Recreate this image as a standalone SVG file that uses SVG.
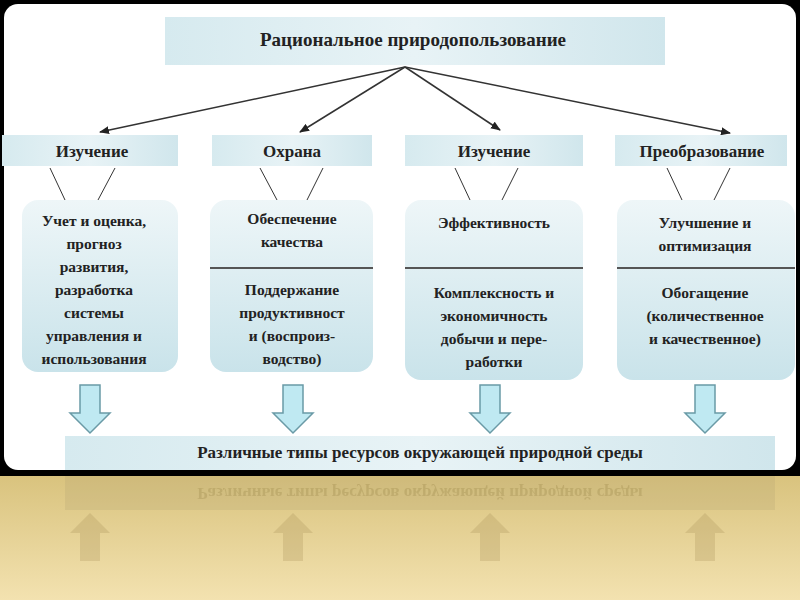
<svg xmlns="http://www.w3.org/2000/svg" width="800" height="600" viewBox="0 0 800 600">
<defs>
<linearGradient id="bx" x1="0" y1="0" x2="0" y2="1"><stop offset="0" stop-color="#eef6f8"/><stop offset="1" stop-color="#c9e3ea"/></linearGradient>
<linearGradient id="hd" x1="0" y1="0" x2="1" y2="0"><stop offset="0" stop-color="#d6eaef"/><stop offset="0.5" stop-color="#e8f3f6"/><stop offset="1" stop-color="#d0e6ec"/></linearGradient>
<linearGradient id="gold" x1="0" y1="0" x2="0" y2="1"><stop offset="0" stop-color="#d9c37e"/><stop offset="1" stop-color="#f3e2b0"/></linearGradient>
<marker id="ah" markerWidth="10" markerHeight="8" refX="9" refY="4" orient="auto" markerUnits="userSpaceOnUse"><path d="M0,0 L10,4 L0,8 z" fill="#222"/></marker>
<path id="barrow" d="M-10,0 H10 V28 H20 L0,48 L-20,28 H-10 Z"/>
</defs>
<style>
text{font-family:"Liberation Serif",serif;font-weight:bold;fill:#222;text-anchor:middle}
.t{font-size:19px}.h{font-size:17px}.c{font-size:15.5px}
.box{fill:url(#bx)}
.hdr{fill:url(#hd)}
.ln{stroke:#333;stroke-width:1.5;fill:none}
.ba{fill:#bfe9f2;stroke:#6a9aa6;stroke-width:1.5}
</style>
<rect width="800" height="600" fill="#000"/>
<rect x="0" y="476" width="800" height="124" fill="url(#gold)"/>
<rect x="4" y="4" width="792" height="466" rx="14" fill="#fff"/>
<g id="reflection" opacity="0.25" transform="translate(0,946) scale(1,-1)">
<rect x="65" y="436" width="710" height="34" fill="#b0a070"/>
<g fill="#a08a50"><use href="#barrow" x="90" y="385"/><use href="#barrow" x="293" y="385"/><use href="#barrow" x="490" y="385"/><use href="#barrow" x="705" y="385"/></g>
<text x="420" y="458" class="h" style="fill:#6b5a2a">Различные типы ресурсов окружающей природной среды</text>
</g>
<g id="top"><rect x="165" y="17" width="500" height="48" class="hdr"/><text x="413" y="46" class="t">Рациональное природопользование</text></g>
<g id="connectors">
<line x1="405" y1="67" x2="100" y2="132" class="ln" marker-end="url(#ah)"/>
<line x1="405" y1="67" x2="300" y2="132" class="ln" marker-end="url(#ah)"/>
<line x1="405" y1="67" x2="500" y2="130" class="ln" marker-end="url(#ah)"/>
<line x1="405" y1="67" x2="730" y2="133" class="ln" marker-end="url(#ah)"/>
<path class="ln" style="stroke-width:1" d="M50,168 L65,200 M115,168 L98,200 M260,168 L277,200 M323,168 L307,200 M455,168 L470,200 M518,168 L502,200 M667,168 L682,200 M730,168 L714,200"/>
</g>
<g id="h1"><rect x="2" y="135" width="176" height="31" class="hdr"/><text x="92" y="157" class="h">Изучение</text></g>
<g id="h2"><rect x="212" y="135" width="160" height="31" class="hdr"/><text x="292" y="157" class="h">Охрана</text></g>
<g id="h3"><rect x="405" y="135" width="178" height="31" class="hdr"/><text x="494" y="157" class="h">Изучение</text></g>
<g id="h4"><rect x="615" y="135" width="172" height="31" class="hdr"/><text x="702" y="157" class="h">Преобразование</text></g>
<g id="b1"><rect x="22" y="200" width="156" height="172" rx="16" class="box"/>
<text class="c"><tspan x="94" y="226">Учет и оценка,</tspan><tspan x="94" y="249">прогноз</tspan><tspan x="94" y="272">развития,</tspan><tspan x="94" y="295">разработка</tspan><tspan x="94" y="318">системы</tspan><tspan x="94" y="341">управления и</tspan><tspan x="94" y="364">использования</tspan></text></g>
<g id="b2"><rect x="210" y="200" width="163" height="172" rx="16" class="box"/><line x1="210" y1="268" x2="373" y2="268" stroke="#555" stroke-width="2"/>
<text class="c"><tspan x="292" y="224">Обеспечение</tspan><tspan x="292" y="247">качества</tspan><tspan x="292" y="295">Поддержание</tspan><tspan x="292" y="318">продуктивност</tspan><tspan x="292" y="341">и (воспроиз-</tspan><tspan x="292" y="364">водство)</tspan></text></g>
<g id="b3"><rect x="405" y="200" width="178" height="180" rx="16" class="box"/><line x1="405" y1="268" x2="583" y2="268" stroke="#555" stroke-width="2"/>
<text class="c"><tspan x="494" y="228">Эффективность</tspan><tspan x="494" y="298">Комплексность и</tspan><tspan x="494" y="321">экономичность</tspan><tspan x="494" y="344">добычи и пере-</tspan><tspan x="494" y="367">работки</tspan></text></g>
<g id="b4"><rect x="617" y="200" width="178" height="180" rx="16" class="box"/><line x1="617" y1="268" x2="795" y2="268" stroke="#555" stroke-width="2"/>
<text class="c"><tspan x="705" y="228">Улучшение и</tspan><tspan x="705" y="251">оптимизация</tspan><tspan x="705" y="298">Обогащение</tspan><tspan x="705" y="321">(количественное</tspan><tspan x="705" y="344">и качественное)</tspan></text></g>
<g id="arrows"><use href="#barrow" x="90" y="385" class="ba"/><use href="#barrow" x="293" y="385" class="ba"/><use href="#barrow" x="490" y="385" class="ba"/><use href="#barrow" x="705" y="385" class="ba"/></g>
<g id="bottom"><rect x="65" y="436" width="710" height="34" class="hdr"/><text x="420" y="458" class="h">Различные типы ресурсов окружающей природной среды</text></g>
</svg>
